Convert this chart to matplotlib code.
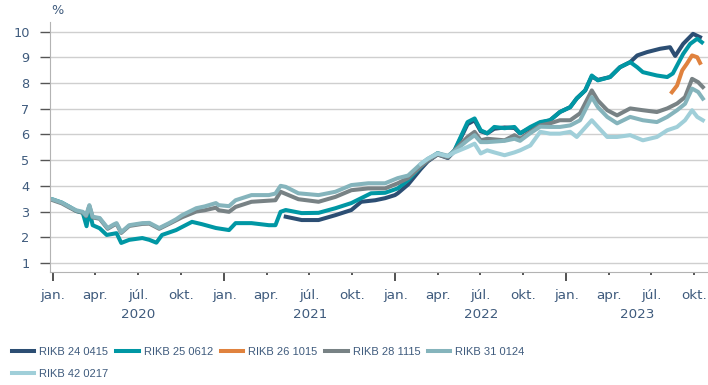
import matplotlib
matplotlib.use("Agg")
import matplotlib.pyplot as plt
import matplotlib.dates as mdates
import matplotlib.transforms as mtransforms
import pandas as pd

# yields in %, read at irregular dates
s24_dates = ["2021-05-12", "2021-06-15", "2021-07-21", "2021-08-26", "2021-09-29", "2021-10-20",
             "2021-11-19", "2021-12-10", "2021-12-31", "2022-01-06", "2022-01-28", "2022-02-24",
             "2022-03-11", "2022-04-01", "2022-04-23", "2022-05-07", "2022-06-04", "2022-06-19",
             "2022-07-02", "2022-07-16", "2022-07-31", "2022-08-22", "2022-09-12", "2022-09-24",
             "2022-10-16", "2022-11-06", "2022-11-27", "2022-12-18", "2023-01-09", "2023-01-23",
             "2023-02-10", "2023-02-24", "2023-03-09", "2023-04-04", "2023-04-25", "2023-05-17",
             "2023-06-01", "2023-06-22", "2023-07-20", "2023-08-10", "2023-08-21", "2023-09-07",
             "2023-09-28", "2023-10-13"]
s24_vals = [2.80, 2.67, 2.67, 2.86, 3.06, 3.38, 3.44, 3.52, 3.64, 3.71, 4.05, 4.65,
            4.95, 5.22, 5.08, 5.35, 6.40, 6.55, 6.12, 6.04, 6.22, 6.27, 6.25, 6.04,
            6.25, 6.45, 6.55, 6.87, 7.06, 7.40, 7.71, 8.25, 8.12, 8.23, 8.61, 8.81,
            9.07, 9.20, 9.33, 9.39, 9.05, 9.52, 9.91, 9.78]

s25_dates = ["2020-01-01", "2020-01-20", "2020-02-06", "2020-02-20", "2020-03-05", "2020-03-13",
             "2020-03-19", "2020-03-26", "2020-04-10", "2020-04-25", "2020-05-16", "2020-05-26",
             "2020-06-12", "2020-07-10", "2020-07-25", "2020-08-09", "2020-08-21", "2020-09-20",
             "2020-10-24", "2020-11-14", "2020-12-14", "2021-01-11", "2021-01-25", "2021-02-28",
             "2021-04-06", "2021-04-20", "2021-05-01", "2021-05-12", "2021-06-15", "2021-07-21",
             "2021-08-26", "2021-09-29", "2021-10-20", "2021-11-10", "2021-12-10", "2022-01-06",
             "2022-01-28", "2022-02-24", "2022-03-11", "2022-04-01", "2022-04-23", "2022-05-07",
             "2022-06-04", "2022-06-19", "2022-07-02", "2022-07-16", "2022-07-31", "2022-08-22",
             "2022-09-12", "2022-09-24", "2022-10-16", "2022-11-06", "2022-11-27", "2022-12-18",
             "2023-01-09", "2023-01-23", "2023-02-10", "2023-02-24", "2023-03-09", "2023-04-04",
             "2023-04-25", "2023-05-17", "2023-06-01", "2023-06-13", "2023-07-13", "2023-08-04",
             "2023-08-16", "2023-09-07", "2023-09-22", "2023-10-07", "2023-10-17"]
s25_vals = [3.47, 3.35, 3.18, 3.02, 2.95, 2.43, 3.05, 2.47, 2.35, 2.09, 2.16, 1.78,
            1.90, 1.97, 1.90, 1.79, 2.09, 2.28, 2.60, 2.51, 2.36, 2.28, 2.55, 2.55,
            2.47, 2.47, 2.99, 3.06, 2.94, 2.95, 3.13, 3.33, 3.52, 3.71, 3.73, 3.90,
            4.22, 4.74, 5.00, 5.27, 5.12, 5.38, 6.48, 6.62, 6.16, 6.04, 6.29, 6.24,
            6.29, 6.04, 6.29, 6.48, 6.55, 6.87, 7.06, 7.40, 7.71, 8.29, 8.10, 8.23,
            8.61, 8.81, 8.61, 8.42, 8.29, 8.23, 8.37, 9.13, 9.52, 9.72, 9.58]

s26_dates = ["2023-08-14", "2023-08-25", "2023-09-05", "2023-09-15", "2023-09-26", "2023-10-07",
             "2023-10-13"]
s26_vals = [7.64, 7.90, 8.49, 8.75, 9.07, 9.00, 8.78]

s28_dates = ["2020-01-01", "2020-01-20", "2020-02-06", "2020-02-20", "2020-03-05", "2020-03-12",
             "2020-03-19", "2020-03-26", "2020-04-10", "2020-04-27", "2020-05-10", "2020-05-16",
             "2020-05-26", "2020-06-12", "2020-07-10", "2020-07-25", "2020-08-15", "2020-09-05",
             "2020-09-20", "2020-10-03", "2020-11-02", "2020-11-20", "2020-12-14", "2020-12-20",
             "2021-01-11", "2021-01-25", "2021-02-28", "2021-04-20", "2021-05-01", "2021-06-08",
             "2021-07-21", "2021-08-26", "2021-09-29", "2021-11-04", "2021-12-10", "2022-01-06",
             "2022-01-28", "2022-02-24", "2022-03-11", "2022-04-01", "2022-04-23", "2022-05-07",
             "2022-06-04", "2022-06-19", "2022-07-02", "2022-07-16", "2022-08-22", "2022-09-12",
             "2022-09-24", "2022-10-16", "2022-11-06", "2022-11-27", "2022-12-18", "2023-01-09",
             "2023-01-30", "2023-02-24", "2023-03-09", "2023-03-29", "2023-04-19", "2023-05-17",
             "2023-06-13", "2023-07-13", "2023-08-04", "2023-08-25", "2023-09-11", "2023-09-26",
             "2023-10-09", "2023-10-19"]
s28_vals = [3.44, 3.32, 3.15, 3.02, 2.96, 2.82, 3.22, 2.77, 2.72, 2.33, 2.47, 2.52,
            2.17, 2.44, 2.52, 2.53, 2.33, 2.52, 2.66, 2.78, 3.00, 3.05, 3.15, 3.05,
            2.99, 3.18, 3.38, 3.44, 3.77, 3.48, 3.38, 3.57, 3.83, 3.90, 3.90, 4.10,
            4.30, 4.75, 4.98, 5.22, 5.10, 5.38, 5.90, 6.10, 5.77, 5.83, 5.77, 5.97,
            5.83, 6.10, 6.35, 6.43, 6.55, 6.55, 6.82, 7.71, 7.32, 6.94, 6.74, 7.01,
            6.94, 6.87, 7.01, 7.20, 7.45, 8.16, 8.03, 7.84]

s31_dates = ["2020-01-01", "2020-01-20", "2020-02-06", "2020-02-20", "2020-03-05", "2020-03-12",
             "2020-03-19", "2020-03-26", "2020-04-10", "2020-04-27", "2020-05-10", "2020-05-16",
             "2020-05-26", "2020-06-12", "2020-07-10", "2020-07-25", "2020-08-15", "2020-09-05",
             "2020-09-20", "2020-10-03", "2020-11-02", "2020-11-20", "2020-12-14", "2020-12-20",
             "2021-01-11", "2021-01-25", "2021-02-28", "2021-04-06", "2021-04-20", "2021-05-01",
             "2021-05-12", "2021-06-08", "2021-07-21", "2021-08-26", "2021-09-29", "2021-11-04",
             "2021-12-10", "2022-01-06", "2022-01-28", "2022-02-24", "2022-03-11", "2022-04-01",
             "2022-04-23", "2022-05-07", "2022-06-04", "2022-06-19", "2022-07-02", "2022-07-16",
             "2022-08-22", "2022-09-12", "2022-09-24", "2022-10-16", "2022-11-06", "2022-11-27",
             "2022-12-18", "2023-01-09", "2023-01-30", "2023-02-24", "2023-03-09", "2023-03-29",
             "2023-04-19", "2023-05-17", "2023-06-13", "2023-07-13", "2023-08-04", "2023-08-25",
             "2023-09-11", "2023-09-26", "2023-10-09", "2023-10-19"]
s31_vals = [3.47, 3.35, 3.18, 3.05, 2.99, 2.85, 3.25, 2.80, 2.75, 2.36, 2.50, 2.55,
            2.20, 2.47, 2.55, 2.56, 2.36, 2.55, 2.70, 2.86, 3.13, 3.20, 3.33, 3.25,
            3.21, 3.44, 3.64, 3.64, 3.70, 4.00, 3.96, 3.71, 3.64, 3.77, 4.03, 4.10,
            4.10, 4.30, 4.40, 4.85, 5.05, 5.27, 5.17, 5.35, 5.77, 5.97, 5.70, 5.70,
            5.75, 5.83, 5.75, 6.05, 6.30, 6.29, 6.29, 6.35, 6.55, 7.45, 7.06, 6.68,
            6.43, 6.68, 6.55, 6.48, 6.68, 6.94, 7.19, 7.78, 7.65, 7.39]

s42_dates = ["2022-02-24", "2022-03-11", "2022-04-01", "2022-04-23", "2022-05-07", "2022-06-04",
             "2022-06-19", "2022-07-02", "2022-07-16", "2022-07-31", "2022-08-22", "2022-09-12",
             "2022-09-24", "2022-10-16", "2022-11-06", "2022-11-27", "2022-12-18", "2023-01-09",
             "2023-01-23", "2023-02-24", "2023-03-09", "2023-03-29", "2023-04-19", "2023-05-17",
             "2023-06-13", "2023-07-13", "2023-08-04", "2023-08-25", "2023-09-11", "2023-09-26",
             "2023-10-07", "2023-10-19"]
s42_vals = [4.85, 5.05, 5.25, 5.15, 5.30, 5.51, 5.64, 5.26, 5.38, 5.30, 5.19, 5.30,
            5.38, 5.57, 6.10, 6.03, 6.03, 6.10, 5.90, 6.55, 6.29, 5.90, 5.90, 5.97,
            5.77, 5.90, 6.16, 6.29, 6.55, 6.94, 6.68, 6.55]

names = ["RIKB 24 0415", "RIKB 25 0612", "RIKB 26 1015", "RIKB 28 1115", "RIKB 31 0124", "RIKB 42 0217"]
colors = ["#2c4e73", "#0097a4", "#e0823e", "#788285", "#85b4bc", "#a0cfd9"]
series = [(s24_dates, s24_vals), (s25_dates, s25_vals), (s26_dates, s26_vals),
          (s28_dates, s28_vals), (s31_dates, s31_vals), (s42_dates, s42_vals)]

text_color = "#3f5b7d"

fig = plt.figure(figsize=(7.08, 3.85), dpi=100)
ax = fig.add_axes([50 / 708, 113 / 385, 658 / 708, 250 / 385])

lines = []
for name, color, (d, v) in zip(names, colors, series):
    ln, = ax.plot(pd.to_datetime(d), v, color=color, lw=2.9, label=name, solid_joinstyle="round")
    lines.append(ln)

ax.set_ylim(0.65, 10.37)
ax.set_yticks(range(1, 11))
x0, x1 = pd.Timestamp("2019-12-26"), pd.Timestamp("2023-10-30")
ax.set_xlim(x0, x1)

ax.grid(axis="y", color="#cfcfcf", lw=1.0)
ax.set_axisbelow(True)
for side in ["top", "right"]:
    ax.spines[side].set_visible(False)
for side in ["left", "bottom"]:
    ax.spines[side].set_color("#b3b3b3")

month_names = {1: "jan.", 4: "apr.", 7: "júl.", 10: "okt."}
ax.xaxis.set_major_locator(mdates.MonthLocator(bymonth=[1, 4, 7, 10]))
ax.xaxis.set_major_formatter(plt.FuncFormatter(lambda x, pos: month_names[mdates.num2date(x).month]))
ax.tick_params(axis="x", length=2.5, width=1.3, color="#444444", pad=9.5,
               labelsize=9.7, labelcolor=text_color)
ax.tick_params(axis="y", length=7.2, width=1.0, color="#555555", pad=7.5,
               labelsize=9.3, labelcolor=text_color)

# longer ticks at the start of each year
locs = ax.xaxis.get_major_locator()()
for loc, tick in zip(locs, ax.xaxis.get_major_ticks(len(locs))):
    if mdates.num2date(loc).month == 1:
        tick.tick1line.set_markersize(6.5)

# year labels centred on the visible part of each year
trans = mtransforms.blended_transform_factory(ax.transData, fig.transFigure)
for year in [2020, 2021, 2022, 2023]:
    a = max(pd.Timestamp(f"{year}-01-01"), x0)
    b = min(pd.Timestamp(f"{year + 1}-01-01"), x1)
    mid = a + (b - a) / 2
    ax.text(mid, 1 - 314 / 385, str(year), transform=trans, ha="center", va="center",
            fontsize=9.7, color=text_color)

fig.text(51 / 708, 1 - 10 / 385, "%", ha="left", va="center", fontsize=9.3, color=text_color)

# legend fills column-wise, so reorder to read row by row
order = [0, 5, 1, 2, 3, 4]
leg = fig.legend([lines[i] for i in order], [names[i] for i in order],
                 loc="upper left", bbox_to_anchor=(12 / 708, 1 - 347 / 385), ncol=5,
                 frameon=False, borderpad=0, borderaxespad=0, handlelength=2.0,
                 handletextpad=0.45, columnspacing=0.72, labelspacing=1.08,
                 prop={"family": "Liberation Sans", "size": 8})
for txt in leg.get_texts():
    txt.set_color(text_color)

fig.savefig("out.png", dpi=100)
